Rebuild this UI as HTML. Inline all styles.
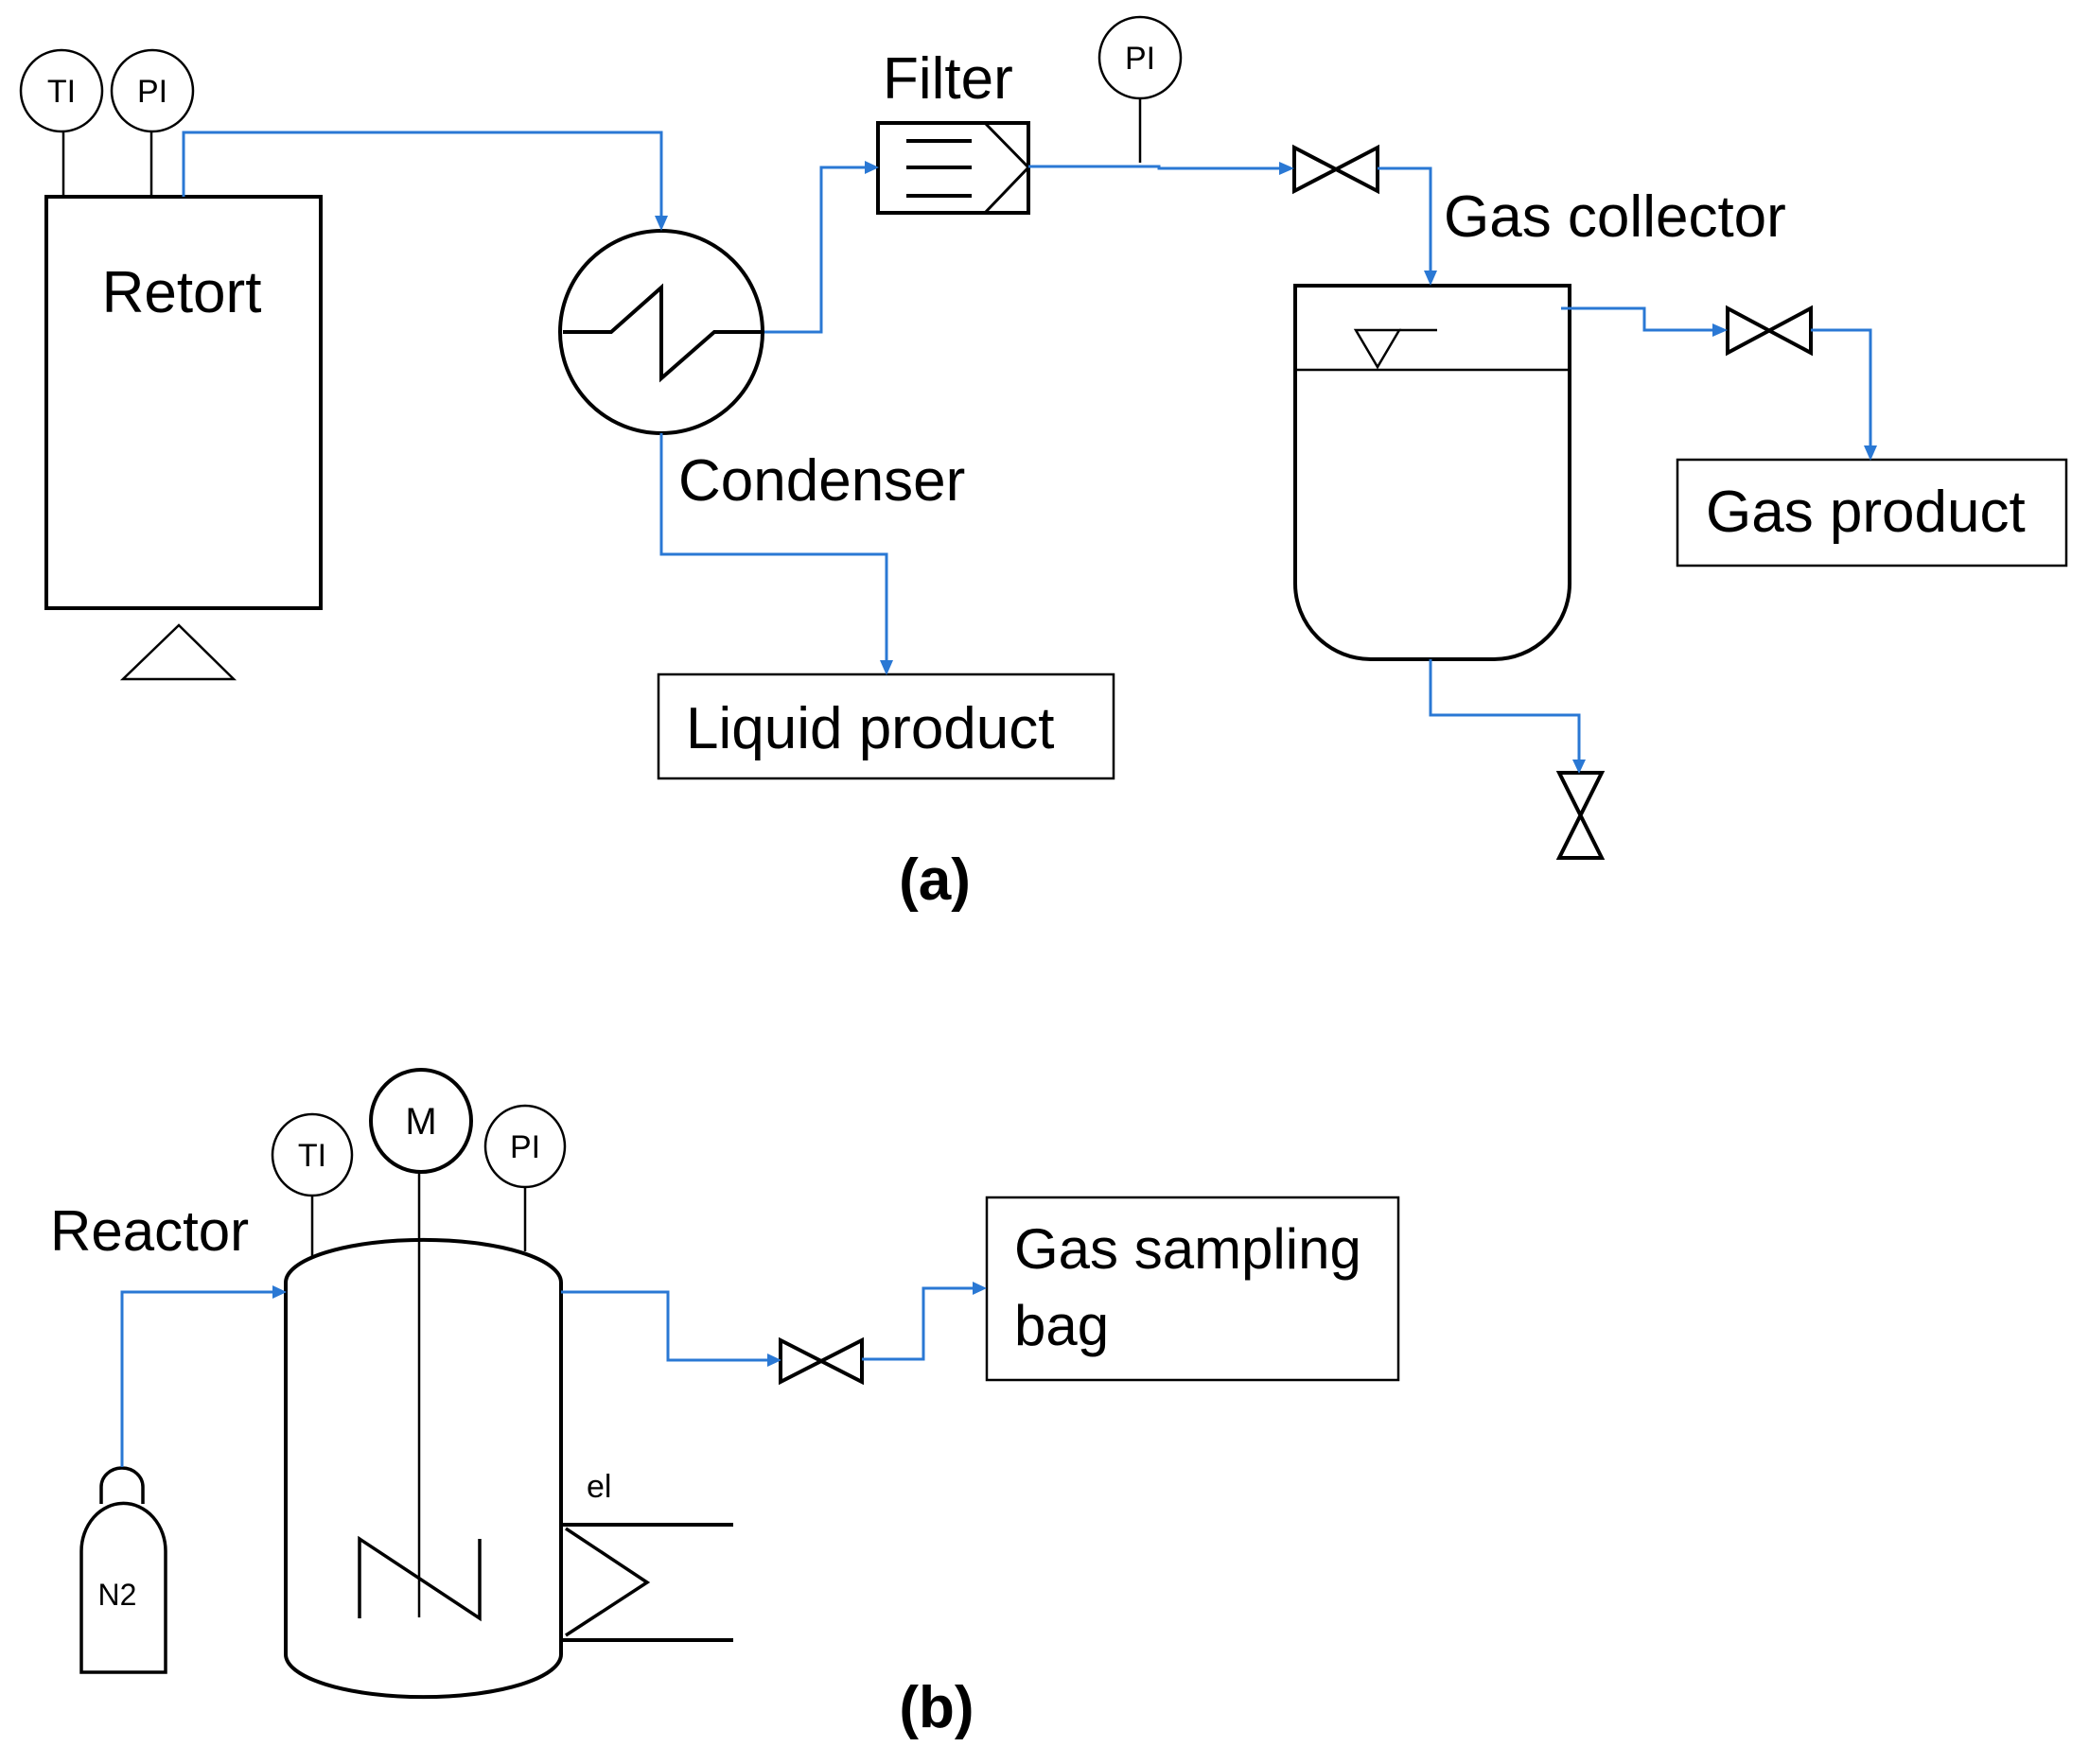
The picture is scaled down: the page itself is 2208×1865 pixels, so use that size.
<!DOCTYPE html>
<html><head><meta charset="utf-8"><style>
html,body{margin:0;padding:0;background:#fff;}
svg{display:block;}
text{font-family:"Liberation Sans",sans-serif;fill:#000;}
</style></head><body>
<svg width="2208" height="1865" viewBox="0 0 2208 1865" xmlns="http://www.w3.org/2000/svg">
<g fill="none" stroke="#000" stroke-width="2.5">
<circle cx="65" cy="96" r="43"/>
<circle cx="161" cy="96" r="43"/>
<line x1="67" y1="139" x2="67" y2="208"/>
<line x1="160" y1="139" x2="160" y2="208"/>
<rect x="49" y="208" width="290" height="435" stroke-width="4"/>
<polygon points="189,661 130,718 247,718"/>
<circle cx="699" cy="351" r="107" stroke-width="4"/>
<polyline points="595,351 646,351 699,304 699,400 755,351 808,351" stroke-width="4"/>
<rect x="928" y="130" width="159" height="95" stroke-width="4"/>
<line x1="958" y1="149" x2="1027" y2="149" stroke-width="4"/>
<line x1="958" y1="177" x2="1027" y2="177" stroke-width="4"/>
<line x1="958" y1="207" x2="1027" y2="207" stroke-width="4"/>
<polyline points="1041,130 1087,177 1041,225" stroke-width="3"/>
<circle cx="1205" cy="61" r="43"/>
<line x1="1205" y1="104" x2="1205" y2="172"/>
<polygon points="1368,156 1456,202 1456,156 1368,202" stroke-width="4"/>
<path d="M1369,302 H1659 V617 A80,80 0 0 1 1579,697 H1449 A80,80 0 0 1 1369,617 Z" stroke-width="4"/>
<line x1="1369" y1="391" x2="1659" y2="391"/>
<polygon points="1433,349 1479,349 1456,388"/>
<line x1="1479" y1="349" x2="1519" y2="349"/>
<polygon points="1826,326 1914,373 1914,326 1826,373" stroke-width="4"/>
<rect x="1773" y="486" width="411" height="112"/>
<polygon points="1648,817 1693,817 1648,907 1693,907" stroke-width="4"/>
<rect x="696" y="713" width="481" height="110"/>
<!-- (b) -->
<ellipse cx="330" cy="1221" rx="42" ry="43"/>
<ellipse cx="445" cy="1185" rx="53" ry="54" stroke-width="4"/>
<ellipse cx="555" cy="1212" rx="42" ry="43"/>
<line x1="330" y1="1264" x2="330" y2="1328"/>
<line x1="555" y1="1255" x2="555" y2="1323"/>
<line x1="443" y1="1239" x2="443" y2="1710"/>
<path d="M302,1356 A145,45 0 0 1 593,1356 V1749 A145,45 0 0 1 302,1749 Z" stroke-width="4"/>
<polyline points="380,1711 380,1627 507,1711 507,1627" stroke-width="3.5"/>
<path d="M107,1590 V1572 A22,20 0 0 1 151,1572 V1590" stroke-width="3.5"/>
<path d="M86,1768 V1640 A44,50 0 0 1 175,1640 V1768 Z" stroke-width="3.5"/>
<line x1="593" y1="1612" x2="775" y2="1612" stroke-width="4"/>
<line x1="593" y1="1734" x2="775" y2="1734" stroke-width="4"/>
<polyline points="598,1616 684,1673 598,1729" stroke-width="3.5"/>
<polygon points="825,1417 911,1461 911,1417 825,1461" stroke-width="4"/>
<rect x="1043" y="1266" width="435" height="193"/>
</g>
<g fill="none" stroke="#2a78d4" stroke-width="3">
<polyline points="194,208 194,140 699,140 699,230"/>
<polyline points="808,351 868,351 868,177 916,177"/>
<polyline points="699,458 699,586 937,586 937,700"/>
<polyline points="1087,176 1225,176 1225,178 1354,178"/>
<polyline points="1456,178 1512,178 1512,288"/>
<polyline points="1650,326 1738,326 1738,349 1812,349"/>
<polyline points="1914,349 1977,349 1977,473"/>
<polyline points="1512,697 1512,756 1669,756 1669,805"/>
<polyline points="129,1551 129,1366 290,1366"/>
<polyline points="593,1366 706,1366 706,1438 813,1438"/>
<polyline points="911,1437 976,1437 976,1362 1030,1362"/>
</g>
<g fill="#2a78d4">
<polygon points="692,228 706,228 699,244"/>
<polygon points="914,170 914,184 929,177"/>
<polygon points="930,698 944,698 937,714"/>
<polygon points="1352,171 1352,185 1368,178"/>
<polygon points="1505,286 1519,286 1512,302"/>
<polygon points="1810,342 1810,356 1826,349"/>
<polygon points="1970,471 1984,471 1977,487"/>
<polygon points="1662,803 1676,803 1669,818"/>
<polygon points="288,1359 288,1373 303,1366"/>
<polygon points="811,1431 811,1445 826,1438"/>
<polygon points="1028,1355 1028,1369 1043,1362"/>
</g>
<text x="65" y="108" font-size="34" text-anchor="middle">TI</text>
<text x="161" y="108" font-size="34" text-anchor="middle">PI</text>
<text x="1205" y="73" font-size="34" text-anchor="middle">PI</text>
<text x="192" y="330" font-size="62" text-anchor="middle">Retort</text>
<text x="933" y="104" font-size="62">Filter</text>
<text x="717" y="529" font-size="62">Condenser</text>
<text x="1526" y="250" font-size="62">Gas collector</text>
<text x="1803" y="562" font-size="62">Gas product</text>
<text x="725" y="791" font-size="62">Liquid product</text>
<text x="988" y="951" font-size="62" font-weight="bold" text-anchor="middle">(a)</text>
<text x="53" y="1322" font-size="60">Reactor</text>
<text x="330" y="1233" font-size="34" text-anchor="middle">TI</text>
<text x="445" y="1199" font-size="40" text-anchor="middle">M</text>
<text x="555" y="1224" font-size="34" text-anchor="middle">PI</text>
<text x="1072" y="1341" font-size="60">Gas sampling</text>
<text x="1072" y="1422" font-size="60">bag</text>
<text x="620" y="1583" font-size="34">el</text>
<text x="124" y="1697" font-size="32" text-anchor="middle">N2</text>
<text x="990" y="1826" font-size="62" font-weight="bold" text-anchor="middle">(b)</text>
</svg>
</body></html>
